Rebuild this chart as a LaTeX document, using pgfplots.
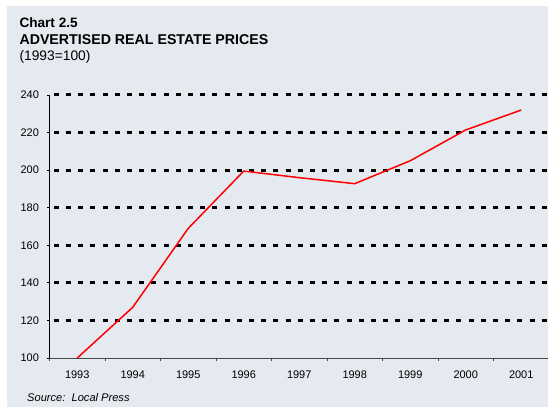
\documentclass[border=0pt]{standalone}
\usepackage{fontspec}
\setmainfont{Liberation Sans}
\usepackage{pgfplots}
\pgfplotsset{compat=1.18}
\definecolor{bgc}{RGB}{229,233,240}
\definecolor{axc}{RGB}{70,70,70}
\begin{document}
\begin{tikzpicture}
\useasboundingbox (0,0) rectangle (548bp,408bp);
\fill[white] (0,0) rectangle (548bp,408bp);
\fill[bgc] (7.3bp,1bp) rectangle (548bp,402bp);
\node[anchor=base west,inner sep=0pt,font=\fontsize{13.6bp}{15bp}\selectfont\bfseries] at (19.3bp,408bp-27.3bp) {Chart 2.5};
\node[anchor=base west,inner sep=0pt,font=\fontsize{14.2bp}{15bp}\selectfont\bfseries] at (19.3bp,408bp-44.3bp) {ADVERTISED REAL ESTATE PRICES};
\node[anchor=base west,inner sep=0pt,font=\fontsize{13.8bp}{15bp}\selectfont] at (19.3bp,408bp-60.3bp) {(1993=100)};
\node[anchor=base west,inner sep=0pt,font=\fontsize{11.1bp}{12bp}\selectfont\itshape] at (27bp,408bp-401.7bp) {Source:\ \ Local Press};
\begin{axis}[
  at={(49.5bp,50bp)}, anchor=south west,
  scale only axis, width=499.5bp, height=263bp,
  xmin=-0.5, xmax=8.5, ymin=100, ymax=240,
  axis x line*=bottom, axis y line*=left,
  x axis line style={axc, line width=0.8bp, -},
  y axis line style={black, line width=0.8bp, -},
  xtick={0,...,8},
  xticklabels={1993,1994,1995,1996,1997,1998,1999,2000,2001},
  minor xtick={-0.5,0.5,...,7.5},
  major x tick style={draw=none},
  minor x tick style={axc, line width=0.8bp},
  minor tick length=3bp,
  ytick={120,140,...,240},
  extra y ticks={100},
  extra y tick style={grid=none},
  major tick length=3bp,
  tick align=outside,
  y tick style={black, line width=0.8bp},
  ymajorgrids,
  major grid style={black, line width=3bp, dash pattern=on 5bp off 7.2bp, dash phase=7.9bp},
  tick label style={font=\fontsize{11bp}{12bp}\selectfont},
  /pgf/number format/assume math mode=true,
  xticklabel style={yshift=-6bp},
  yticklabel style={xshift=-4bp},
  clip=false,
]
\addplot[red, line width=1.5bp] coordinates {
(0,100) (1,127) (2,169) (3,199.5) (4,196) (5,192.8) (6,205) (7,221.4) (8,232)
};
\end{axis}
\end{tikzpicture}
\end{document}
